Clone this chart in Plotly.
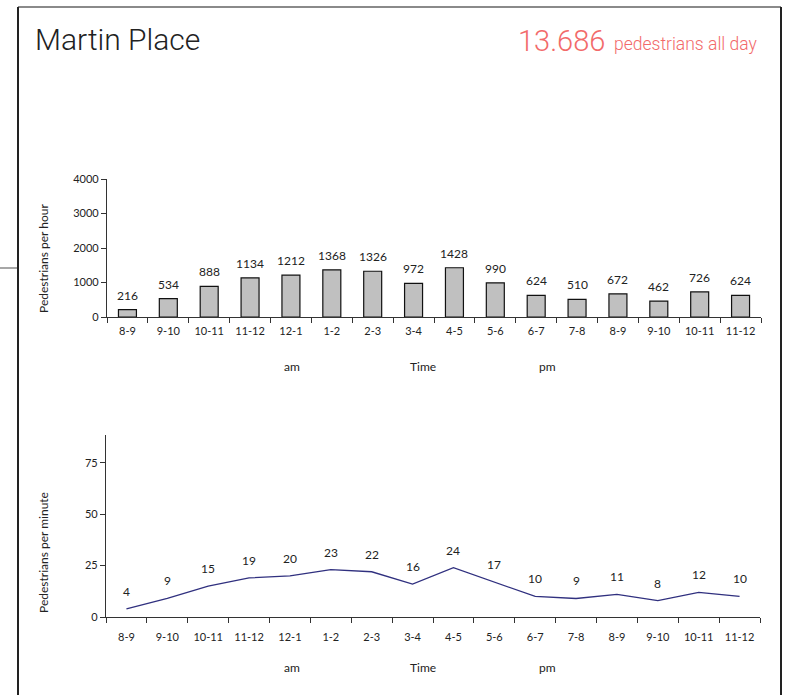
import plotly.graph_objects as go

# Hourly time slots (trailing spaces keep the repeated pm slots distinct)
slots = ["8-9", "9-10", "10-11", "11-12", "12-1", "1-2", "2-3", "3-4",
         "4-5", "5-6", "6-7", "7-8", "8-9 ", "9-10 ", "10-11 ", "11-12 "]
slot_labels = ["8-9", "9-10", "10-11", "11-12", "12-1", "1-2", "2-3", "3-4",
               "4-5", "5-6", "6-7", "7-8", "8-9", "9-10", "10-11", "11-12"]

# Pedestrian counts
per_hour = [216, 534, 888, 1134, 1212, 1368, 1326, 972,
            1428, 990, 624, 510, 672, 462, 726, 624]
per_minute = [4, 9, 15, 19, 20, 23, 22, 16,
              24, 17, 10, 9, 11, 8, 12, 10]

total_label = "13.686"
place = "Martin Place"

W, H = 791, 695
FONT = "Lato"
TXT = "#222222"


def px(x):
    return x / W


def py(y):
    return 1 - y / H


fig = go.Figure()

fig.add_trace(go.Bar(
    x=slots, y=per_hour, xaxis="x", yaxis="y",
    marker=dict(color="#c0c0c0", line=dict(color="#111111", width=1.2)),
    width=0.44, hoverinfo="skip",
))

fig.add_trace(go.Scatter(
    x=slots, y=per_minute, xaxis="x2", yaxis="y2", mode="lines",
    line=dict(color="#30307f", width=1.3), hoverinfo="skip",
))

annotations = []
for s, v in zip(slots, per_hour):
    annotations.append(dict(x=s, y=v, xref="x", yref="y", text=str(v),
                            showarrow=False, yanchor="bottom", yshift=5,
                            font=dict(family=FONT, size=12, color=TXT)))
for s, v in zip(slots, per_minute):
    annotations.append(dict(x=s, y=v, xref="x2", yref="y2", text=str(v),
                            showarrow=False, yanchor="bottom", yshift=8,
                            font=dict(family=FONT, size=12, color=TXT)))

# Header texts
annotations += [
    dict(x=px(33), y=py(40), xref="paper", yref="paper", text=place,
         showarrow=False, xanchor="left", yanchor="middle",
         font=dict(family="Roboto", size=30, color=TXT, weight=300)),
    dict(x=px(607), y=py(41), xref="paper", yref="paper", text=total_label,
         showarrow=False, xanchor="right", yanchor="middle",
         font=dict(family="Roboto", size=29, color="#f26a6a", weight=300)),
    dict(x=px(759), y=py(44), xref="paper", yref="paper", text="pedestrians all day",
         showarrow=False, xanchor="right", yanchor="middle",
         font=dict(family="Roboto", size=17.5, color="#f26a6a", weight=300)),
]

# Axis captions
for yy in (366, 667):
    for xx, t in ((292, "am"), (423, "Time"), (547, "pm")):
        annotations.append(dict(x=px(xx), y=py(yy), xref="paper", yref="paper",
                                text=t, showarrow=False,
                                xanchor="center", yanchor="middle",
                                font=dict(family=FONT, size=12, color=TXT)))
annotations += [
    dict(x=px(43), y=py(259), xref="paper", yref="paper", text="Pedestrians per hour",
         textangle=-90, showarrow=False, xanchor="center", yanchor="middle",
         font=dict(family=FONT, size=12, color=TXT)),
    dict(x=px(43), y=py(553), xref="paper", yref="paper", text="Pedestrians per minute",
         textangle=-90, showarrow=False, xanchor="center", yanchor="middle",
         font=dict(family=FONT, size=12, color=TXT)),
]

# Frame lines
shapes = [
    dict(type="line", xref="paper", yref="paper", x0=px(18), x1=px(781),
         y0=py(7), y1=py(7), line=dict(color="#8a8a8a", width=2)),
    dict(type="line", xref="paper", yref="paper", x0=px(18), x1=px(18),
         y0=py(7), y1=0, line=dict(color="#222222", width=2)),
    dict(type="line", xref="paper", yref="paper", x0=px(781), x1=px(781),
         y0=py(7), y1=0, line=dict(color="#222222", width=2)),
    dict(type="line", xref="paper", yref="paper", x0=0, x1=px(17),
         y0=py(268), y1=py(268), line=dict(color="#8a8a8a", width=1.5)),
]

xcommon = dict(type="category", showline=True, linecolor="#333333", linewidth=1.2,
               ticks="outside", tickson="boundaries", ticklen=5, tickcolor="#333333",
               tickmode="array", tickvals=slots, ticktext=slot_labels,
               range=[-0.5, len(slots) - 0.5],
               tickfont=dict(family=FONT, size=11, color=TXT), automargin=False,
               showgrid=False, zeroline=False, fixedrange=True)
ycommon = dict(showline=True, linecolor="#333333", linewidth=1.2, ticks="outside",
               ticklen=5, tickcolor="#333333", showgrid=False, zeroline=False,
               automargin=False, tickfont=dict(family=FONT, size=11, color=TXT))

fig.update_layout(
    width=W, height=H, margin=dict(l=0, r=0, t=0, b=0, autoexpand=False),
    paper_bgcolor="white", plot_bgcolor="white", showlegend=False,
    xaxis=dict(domain=[px(107), px(761)], anchor="y", ticklabelstandoff=4, **xcommon),
    yaxis=dict(domain=[py(317), py(179)], anchor="x", range=[0, 4000],
               tickvals=[0, 1000, 2000, 3000, 4000], **ycommon),
    xaxis2=dict(domain=[px(106), px(760)], anchor="y2", ticklabelstandoff=10, **xcommon),
    yaxis2=dict(domain=[py(617), py(435)], anchor="x2", range=[0, 88.5],
                tickvals=[0, 25, 50, 75], **ycommon),
    annotations=annotations, shapes=shapes,
)

fig.write_html("out.html")
